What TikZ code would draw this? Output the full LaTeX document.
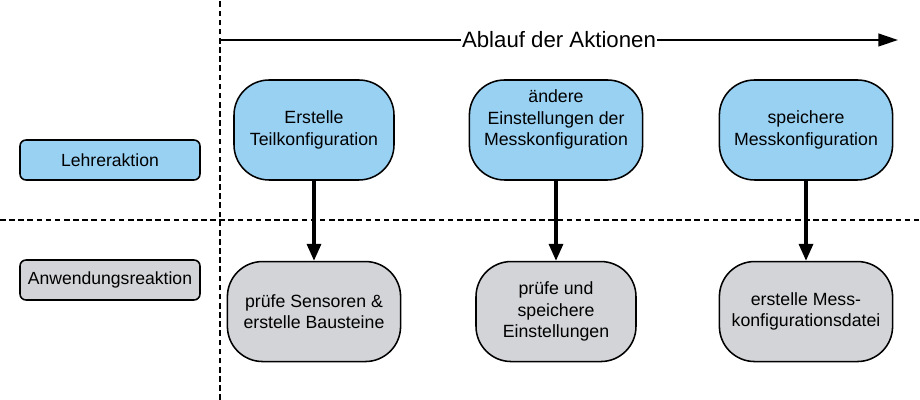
\documentclass[tikz,border=0pt]{standalone}
\usepackage{fontspec}
\setmainfont{Liberation Sans}
\usetikzlibrary{arrows.meta, positioning}

\definecolor{lehrerblue}{RGB}{153,209,243}
\definecolor{reaktiongray}{RGB}{211,212,215}

\begin{document}
\begin{tikzpicture} [node distance=2cm,
		% define styles
		rolenodestyle/.style={
			% The shape:
			rectangle,
			% The size:
			minimum width=4.5cm,
			minimum height=1cm,
			% The border:
			line width=1.1pt,
			draw=black,
			% Corners
			rounded corners=1.5mm,
			% Font
			font=\fontsize{12.5}{15.4}\selectfont
		},
		actionnodestyle/.style={
			% The shape:
			rectangle,
			% The size:
			minimum width=4cm,
			minimum height=2.5cm,
			% The border:
			line width=1.1pt,
			draw=black,
			% Corners
			rounded corners=0.88cm,
			% Text
			align=center,
			font=\fontsize{12.6}{15.4}\selectfont
		},
		separator/.style={
			line width=1.1pt,
			dash pattern=on 4pt off 2.5pt
		},
		arrow/.style={
			% Thickness
			line width=2.2pt,
			-{Triangle[length=12pt, width=10pt]}
		},
		timearrow/.style={
			% Thickness
			line width=1.6pt,
			-{Triangle[length=14pt, width=9pt]}
		}]
		% end of style definition

		\useasboundingbox (0,0) rectangle (23,10);

		% swimlane separators
		\draw [separator] (5.5,0) -- (5.5,10);
		\draw [separator] (0,4.5) -- (23,4.5);

		% time line
		\coordinate (iStart) at (5.5,9);
		\coordinate (iEnd) at (22.45,9);
		\draw [timearrow] (iStart) -- node[fill=white, inner sep=1pt, font=\fontsize{15.8}{18}\selectfont] {Ablauf der Aktionen} (iEnd);

		% draw nodes
		\node (iLehrer) [rolenodestyle, fill=lehrerblue] at (2.75,6) {Lehreraktion};
		\node (iAnwendung) [rolenodestyle, fill=reaktiongray] at (2.75,3) {Anwendungsreaktion};

		\node (iErstelle) [actionnodestyle, fill=lehrerblue] at (7.85,6.75) {Erstelle\\Teilkonfiguration};
		\node (iAendere) [actionnodestyle, fill=lehrerblue, minimum width=4.33cm] at (13.9,6.75) {ändere\\Einstellungen der\\Messkonfiguration\\[2pt]\mbox{}};
		\node (iSpeichere) [actionnodestyle, fill=lehrerblue, minimum width=4.33cm] at (20.15,6.75) {speichere\\Messkonfiguration};

		\node (iPruefeSensoren) [actionnodestyle, fill=reaktiongray, minimum width=4.33cm, below = of iErstelle] {prüfe Sensoren \&\\erstelle Bausteine};
		\node (iPruefeEinst) [actionnodestyle, fill=reaktiongray, below = of iAendere] {prüfe und\\speichere\\Einstellungen};
		\node (iMessdatei) [actionnodestyle, fill=reaktiongray, minimum width=4.33cm, below = of iSpeichere] {erstelle Mess-\\konfigurationsdatei};

		% connect nodes
		\draw [arrow] (iErstelle) -- (iPruefeSensoren);
		\draw [arrow] (iAendere) -- (iPruefeEinst);
		\draw [arrow] (iSpeichere) -- (iMessdatei);
	\end{tikzpicture}
\end{document}
